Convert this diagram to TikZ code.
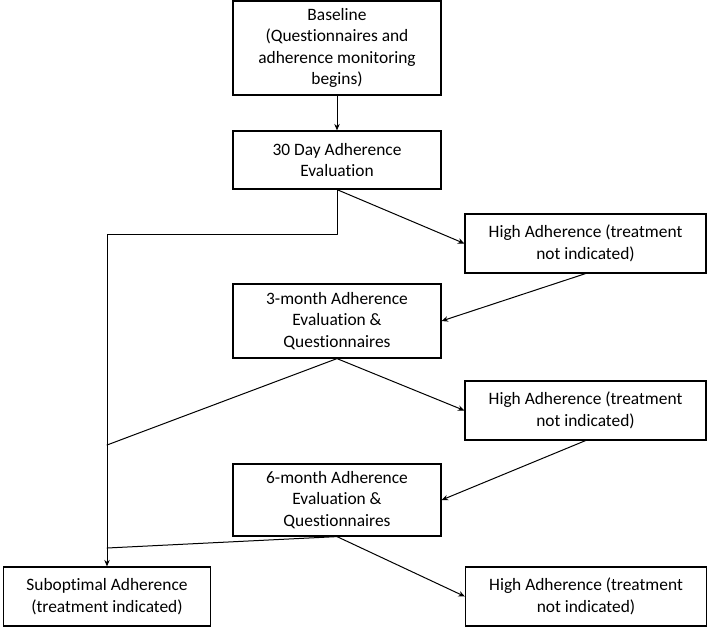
\documentclass[tikz,border=0pt]{standalone}
\usepackage{fontspec}
\setmainfont{Carlito}[Ligatures=NoCommon]
\usetikzlibrary{arrows.meta,positioning}

\begin{document}
\begin{tikzpicture}[x=1pt,y=-1pt]
\tikzset{
  flownode/.style={rectangle,draw=black,line width=1.2pt,align=center,inner sep=2pt,font=\fontsize{17.4}{21.5}\selectfont,text=black},
  flowedge/.style={draw=black,line width=1pt,line cap=round,line join=round},
  directed/.style={flowedge,-{Stealth[length=6.5pt,width=5.5pt]}},
  undirected/.style={flowedge}
}
\useasboundingbox (0,0) rectangle (709,630);
\node[flownode,minimum width=208pt,minimum height=94pt] (n_base) at (337,48) {Baseline\\(Questionnaires and\\adherence monitoring\\begins)};
\node[flownode,minimum width=208pt,minimum height=58pt] (n_d30) at (337,160) {30 Day Adherence\\Evaluation};
\node[flownode,minimum width=241pt,minimum height=59pt] (n_hi1) at (585.5,243.5) {High Adherence (treatment\\not indicated)};
\node[flownode,minimum width=208pt,minimum height=74pt] (n_m3) at (337,321) {3-month Adherence\\Evaluation \&\\Questionnaires};
\node[flownode,minimum width=241pt,minimum height=59pt] (n_hi2) at (585.5,410.5) {High Adherence (treatment\\not indicated)};
\node[flownode,minimum width=208pt,minimum height=72pt] (n_m6) at (337,500) {6-month Adherence\\Evaluation \&\\Questionnaires};
\node[flownode,minimum width=207pt,minimum height=59pt] (n_sub) at (107,596.5) {Suboptimal Adherence\\(treatment indicated)};
\node[flownode,minimum width=241pt,minimum height=59pt] (n_hi3) at (586,596.5) {High Adherence (treatment\\not indicated)};
\coordinate (j1) at (107,234);
\coordinate (j2) at (107,445);
\coordinate (j3) at (107,548);
\draw[directed] (n_base) -- (n_d30);
\draw[directed] (n_d30.south) -- (n_hi1.west);
\draw[directed] (n_d30.south) |- (j1) -- (n_sub.north);
\draw[directed] (n_hi1.south) -- (n_m3.east);
\draw[undirected] (n_m3.south) -- (j2);
\draw[directed] (n_m3.south) -- (n_hi2.west);
\draw[directed] (n_hi2.south) -- (n_m6.east);
\draw[undirected] (n_m6.south) -- (j3);
\draw[directed] (n_m6.south) -- (n_hi3.west);
\end{tikzpicture}
\end{document}
